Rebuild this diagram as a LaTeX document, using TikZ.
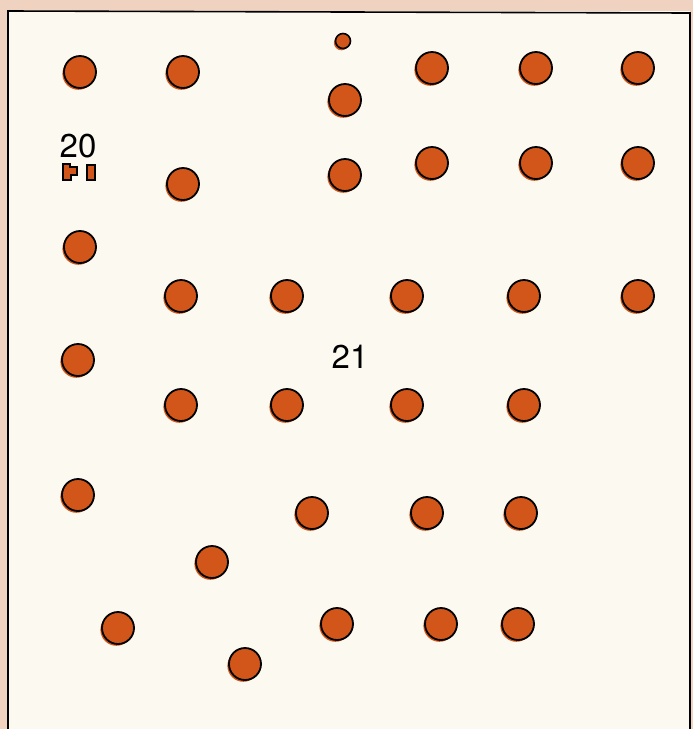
\documentclass[tikz,border=0pt]{standalone}
\usepackage{fontspec}
\setmainfont{TeX Gyre Heros}
\usepackage{xcolor}
\definecolor{pagepeach}{HTML}{EFD3C0}
\definecolor{panelcream}{HTML}{FCF9F1}
\definecolor{dotorange}{HTML}{D2561A}

\begin{document}
\begin{tikzpicture}[x=1pt, y=-1pt,
    dot/.style={circle, draw=black, line width=1.8pt, fill=dotorange,
      minimum size=32pt, inner sep=0pt,
      preaction={fill=dotorange, transform canvas={shift={(-1.6pt,-1.8pt)}}}},
    smalldot/.style={dot, minimum size=15pt, line width=1.6pt},
    num/.style={font=\fontsize{33}{33}\selectfont, text=black, inner sep=0pt},
    keymark/.style={fill=dotorange, draw=black, line width=1.6pt},
  ]
  \useasboundingbox (0,0) rectangle (693,729);
  \fill[pagepeach] (0,0) rectangle (693,729);
  \fill[panelcream] (8,11) rectangle (690,729);
  \draw[line width=1.6pt] (8,729) -- (8,11) -- (690,13) -- (690,729);

  % top block
  \node[dot] (a1) at (80,72)  {};
  \node[dot] (a2) at (183,72) {};
  \node[smalldot] (a0) at (343,41) {};
  \node[dot] (a3) at (345,100) {};
  \node[dot] (a4) at (432,68) {};
  \node[dot] (a5) at (536,68) {};
  \node[dot] (a6) at (638,68) {};

  \node[num] (n20) at (78,146) {20};
  \node[dot] (b1) at (183,184) {};
  \node[dot] (b2) at (345,175) {};
  \node[dot] (b3) at (432,163) {};
  \node[dot] (b4) at (536,163) {};
  \node[dot] (b5) at (638,163) {};

  % small mark under 20
  \path[keymark] (63,164) -- (70,164) -- (70,167) -- (77,167) -- (77,175)
    -- (71,175) -- (71,180) -- (63,180) -- cycle;
  \path[keymark] (87,165) rectangle (95,180);

  % middle block
  \node[dot] (c1) at (80,247)  {};
  \node[dot] (c2) at (181,296) {};
  \node[dot] (c3) at (287,296) {};
  \node[dot] (c4) at (407,296) {};
  \node[dot] (c5) at (524,296) {};
  \node[dot] (c6) at (638,296) {};

  \node[dot] (d1) at (78,360) {};
  \node[num] (n21) at (350,357) {21};
  \node[dot] (d2) at (181,405) {};
  \node[dot] (d3) at (287,405) {};
  \node[dot] (d4) at (407,405) {};
  \node[dot] (d5) at (524,405) {};

  % bottom block
  \node[dot] (e1) at (78,495)  {};
  \node[dot] (e2) at (312,513) {};
  \node[dot] (e3) at (427,513) {};
  \node[dot] (e4) at (521,513) {};
  \node[dot] (e5) at (212,562) {};
  \node[dot] (e6) at (118,628) {};
  \node[dot] (e7) at (337,624) {};
  \node[dot] (e8) at (441,624) {};
  \node[dot] (e9) at (518,624) {};
  \node[dot] (e10) at (245,664) {};
\end{tikzpicture}
\end{document}
